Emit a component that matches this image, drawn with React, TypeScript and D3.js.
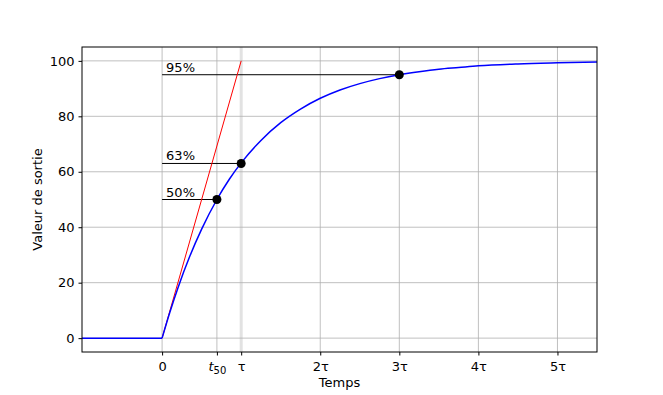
import React, { useEffect, useRef } from "react";
import * as d3 from "d3";

// Step response of a first-order system (time constant tau), drawn with D3.

// flat part before the step
const flatT = [-1.013, 0];
const flatY = [0, 0];

// curve points: time in units of tau, output in %
const curveT = [0, 0.1, 0.2, 0.35, 0.5, 0.693, 0.85, 1, 1.25, 1.5, 1.75, 2, 2.25, 2.5, 2.75, 3, 3.25, 3.5, 3.75, 4, 4.5, 5, 5.5];
const curveY = [0, 9.5, 18.1, 29.5, 39.3, 50.0, 57.3, 63.2, 71.3, 77.7, 82.6, 86.5, 89.5, 91.8, 93.6, 95.0, 96.1, 97.0, 97.6, 98.2, 98.9, 99.3, 99.6];

// tangent at the origin
const tangentT = [0, 1];
const tangentY = [0, 100];

// marked points: label, time, value
const markLabels = ["50%", "63%", "95%"];
const markT = [0.693, 1, 3];
const markY = [50, 63, 95];

const xTicks = [0, 0.693, 1, 2, 3, 4, 5];
const xTickLabels = ["0", "t50", "τ", "2τ", "3τ", "4τ", "5τ"];
const yTicks = [0, 20, 40, 60, 80, 100];

export default function App() {
  const ref = useRef<SVGSVGElement>(null);

  useEffect(() => {
    const W = 663;
    const H = 395;
    const margin = { top: 47, right: 66, bottom: 43, left: 82 };
    const width = W - margin.left - margin.right;
    const height = H - margin.top - margin.bottom;
    const font = "DejaVu Sans, sans-serif";

    const root = d3.select(ref.current);
    root.selectAll("*").remove();
    root.append("rect").attr("width", W).attr("height", H).attr("fill", "#fff");

    const svg = root.append("g").attr("transform", `translate(${margin.left},${margin.top})`);

    const x = d3.scaleLinear().domain([-1.013, 5.5]).range([0, width]);
    const y = d3.scaleLinear().domain([-5, 105]).range([height, 0]);

    // grid
    svg
      .append("g")
      .selectAll("line")
      .data(xTicks)
      .join("line")
      .attr("x1", (d) => x(d))
      .attr("x2", (d) => x(d))
      .attr("y1", 0)
      .attr("y2", height)
      .attr("stroke", (d) => (d === 1 ? "#e2e2e2" : "#b0b0b0"))
      .attr("stroke-width", (d) => (d === 1 ? 3 : 0.8));
    svg
      .append("g")
      .selectAll("line")
      .data(yTicks)
      .join("line")
      .attr("x1", 0)
      .attr("x2", width)
      .attr("y1", (d) => y(d))
      .attr("y2", (d) => y(d))
      .attr("stroke", "#b0b0b0")
      .attr("stroke-width", 0.8);

    // horizontal markers
    markT.forEach((t, i) => {
      svg
        .append("line")
        .attr("x1", x(0))
        .attr("x2", x(t))
        .attr("y1", y(markY[i]))
        .attr("y2", y(markY[i]))
        .attr("stroke", "#000")
        .attr("stroke-width", 1);
      svg
        .append("text")
        .attr("x", x(0) + 4)
        .attr("y", y(markY[i]) - 3)
        .attr("font-family", font)
        .attr("font-size", 13)
        .text(markLabels[i]);
    });

    // tangent
    svg
      .append("path")
      .datum(tangentT.map((t, i) => [t, tangentY[i]] as [number, number]))
      .attr("d", d3.line().x((d) => x(d[0])).y((d) => y(d[1])))
      .attr("fill", "none")
      .attr("stroke", "#ff0000")
      .attr("stroke-width", 1);

    // response curve: flat part, then the rise
    svg
      .append("path")
      .datum(flatT.map((t, i) => [t, flatY[i]] as [number, number]))
      .attr("d", d3.line().x((d) => x(d[0])).y((d) => y(d[1])))
      .attr("fill", "none")
      .attr("stroke", "#0000ff")
      .attr("stroke-width", 1.5);
    svg
      .append("path")
      .datum(curveT.map((t, i) => [t, curveY[i]] as [number, number]))
      .attr("d", d3.line().x((d) => x(d[0])).y((d) => y(d[1])).curve(d3.curveMonotoneX))
      .attr("fill", "none")
      .attr("stroke", "#0000ff")
      .attr("stroke-width", 1.5);

    svg
      .selectAll("circle")
      .data(markT)
      .join("circle")
      .attr("cx", (d) => x(d))
      .attr("cy", (d, i) => y(markY[i]))
      .attr("r", 4.5)
      .attr("fill", "#000");

    // frame
    svg
      .append("rect")
      .attr("width", width)
      .attr("height", height)
      .attr("fill", "none")
      .attr("stroke", "#000")
      .attr("stroke-width", 1);

    // x axis
    const xa = svg
      .append("g")
      .attr("transform", `translate(0,${height})`)
      .call(d3.axisBottom(x).tickValues(xTicks).tickSize(3.5).tickFormat(() => ""));
    xa.select(".domain").remove();
    xa.selectAll(".tick").each(function (d, i) {
      const g = d3.select(this);
      const t = g
        .append("text")
        .attr("y", 19)
        .attr("fill", "#000")
        .attr("font-family", font)
        .attr("font-size", 13)
        .attr("text-anchor", "middle");
      const lab = xTickLabels[i];
      if (lab === "t50") {
        t.append("tspan").attr("font-style", "italic").text("t");
        t.append("tspan").attr("font-size", 10).attr("dy", 3).text("50");
      } else {
        t.text(lab);
      }
    });

    // y axis
    const ya = svg.append("g").call(d3.axisLeft(y).tickValues(yTicks).tickSize(3.5).tickPadding(4));
    ya.select(".domain").remove();
    ya.selectAll("text").attr("font-family", font).attr("font-size", 13).attr("fill", "#000");

    svg
      .append("text")
      .attr("x", width / 2)
      .attr("y", height + 35)
      .attr("text-anchor", "middle")
      .attr("font-family", font)
      .attr("font-size", 13)
      .text("Temps");
    svg
      .append("text")
      .attr("transform", `translate(${-40},${height / 2}) rotate(-90)`)
      .attr("text-anchor", "middle")
      .attr("font-family", font)
      .attr("font-size", 13)
      .text("Valeur de sortie");
  }, []);

  return (
    <svg
      ref={ref}
      width={663}
      height={395}
      style={{ position: "absolute", left: 0, top: 0, display: "block" }}
    />
  );
}
